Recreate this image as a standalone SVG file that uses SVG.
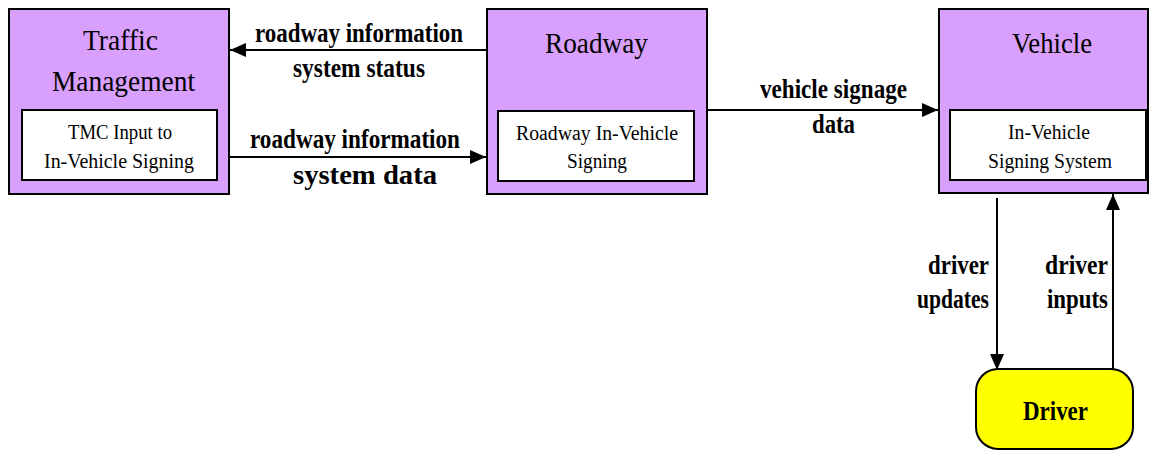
<svg xmlns="http://www.w3.org/2000/svg" width="1150" height="450" viewBox="0 0 1150 450">
<style>
.box{fill:#D8A0FC;stroke:#000;stroke-width:2}
.inner{fill:#fff;stroke:#000;stroke-width:2}
.drv{fill:#FFFF00;stroke:#000;stroke-width:2}
.title{font-family:"Liberation Serif",serif;font-size:29px;fill:#000}
.sub{font-family:"Liberation Serif",serif;font-size:20px;fill:#000}
.lbl{font-family:"Liberation Serif",serif;font-size:28px;font-weight:bold;fill:#000}
.conn{stroke:#000;stroke-width:2;fill:none}
</style>
<defs>
<marker id="ah" markerWidth="16" markerHeight="14" refX="16" refY="7" orient="auto" markerUnits="userSpaceOnUse">
<path d="M0,0 L16,7 L0,14 Z" fill="#000"/>
</marker>
</defs>
<rect width="1150" height="450" fill="#fff"/>
<g id="connectors">
<line class="conn" x1="487" y1="50" x2="230" y2="50" marker-end="url(#ah)"/>
<line class="conn" x1="229" y1="157" x2="486" y2="157" marker-end="url(#ah)"/>
<line class="conn" x1="707" y1="110" x2="938" y2="110" marker-end="url(#ah)"/>
<line class="conn" x1="997" y1="198" x2="997" y2="370" marker-end="url(#ah)"/>
<line class="conn" x1="1113" y1="370" x2="1113" y2="194" marker-end="url(#ah)"/>
<text class="lbl" x="255" y="42" textLength="208" lengthAdjust="spacingAndGlyphs">roadway information</text>
<text class="lbl" x="293" y="77" textLength="132" lengthAdjust="spacingAndGlyphs">system status</text>
<text class="lbl" x="250" y="148" textLength="210" lengthAdjust="spacingAndGlyphs">roadway information</text>
<text class="lbl" x="293" y="184" textLength="144" lengthAdjust="spacingAndGlyphs">system data</text>
<text class="lbl" x="760" y="98" textLength="147" lengthAdjust="spacingAndGlyphs">vehicle signage</text>
<text class="lbl" x="812" y="133" textLength="43" lengthAdjust="spacingAndGlyphs">data</text>
<text class="lbl" x="928" y="274" textLength="61" lengthAdjust="spacingAndGlyphs">driver</text>
<text class="lbl" x="917" y="308" textLength="72" lengthAdjust="spacingAndGlyphs">updates</text>
<text class="lbl" x="1045" y="274" textLength="63" lengthAdjust="spacingAndGlyphs">driver</text>
<text class="lbl" x="1047" y="308" textLength="61" lengthAdjust="spacingAndGlyphs">inputs</text>
</g>
<g id="traffic-management">
<rect class="box" x="9" y="9" width="220" height="185"/>
<text class="title" x="83" y="50" textLength="75" lengthAdjust="spacingAndGlyphs">Traffic</text>
<text class="title" x="52" y="91" textLength="143" lengthAdjust="spacingAndGlyphs">Management</text>
<rect class="inner" x="22" y="110" width="195" height="70"/>
<text class="sub" x="68" y="139" textLength="104" lengthAdjust="spacingAndGlyphs">TMC Input to</text>
<text class="sub" x="44" y="168" textLength="150" lengthAdjust="spacingAndGlyphs">In-Vehicle Signing</text>
</g>
<g id="roadway">
<rect class="box" x="487" y="9" width="220" height="185"/>
<text class="title" x="545" y="53" textLength="103" lengthAdjust="spacingAndGlyphs">Roadway</text>
<rect class="inner" x="498" y="111" width="196" height="70"/>
<text class="sub" x="516" y="140" textLength="162" lengthAdjust="spacingAndGlyphs">Roadway In-Vehicle</text>
<text class="sub" x="567" y="168" textLength="60" lengthAdjust="spacingAndGlyphs">Signing</text>
</g>
<g id="vehicle">
<rect class="box" x="939" y="9" width="209" height="184"/>
<text class="title" x="1012" y="53" textLength="80" lengthAdjust="spacingAndGlyphs">Vehicle</text>
<rect class="inner" x="950" y="110" width="196" height="70"/>
<text class="sub" x="1008" y="139" textLength="82" lengthAdjust="spacingAndGlyphs">In-Vehicle</text>
<text class="sub" x="988" y="168" textLength="124" lengthAdjust="spacingAndGlyphs">Signing System</text>
</g>
<g id="driver">
<rect class="drv" x="976" y="369" width="157" height="80" rx="22" ry="22"/>
<text class="lbl" x="1023" y="420" textLength="65" lengthAdjust="spacingAndGlyphs">Driver</text>
</g>
</svg>
